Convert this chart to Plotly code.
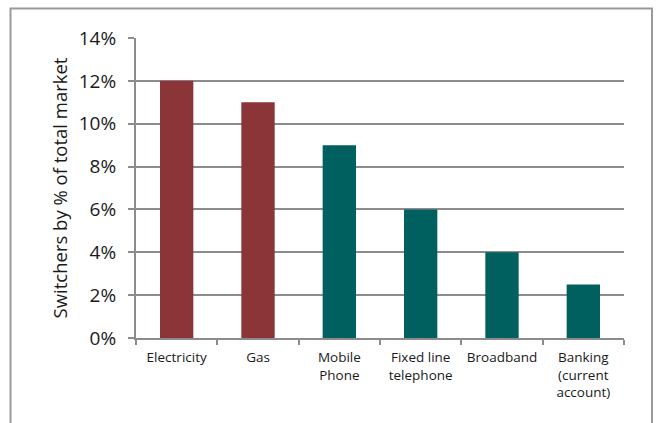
import plotly.graph_objects as go

# Switching rates by market
categories = ["Electricity", "Gas", "Mobile<br>Phone", "Fixed line<br>telephone",
              "Broadband", "Banking<br>(current<br>account)"]
switch_share = [0.12, 0.11, 0.09, 0.06, 0.04, 0.025]
bar_colors = ["#8b3539", "#8b3539", "#00605f", "#00605f", "#00605f", "#00605f"]

W, H = 656, 423
L, R, T, B = 136, 32, 38, 85
pw, ph = W - L - R, H - T - B

fig = go.Figure(go.Bar(
    x=categories, y=switch_share, marker_color=bar_colors,
    marker_line_width=0, width=0.41,
))

font = "Open Sans, Noto Sans, sans-serif"
fig.update_layout(
    width=W, height=H,
    margin=dict(l=L, r=R, t=T, b=B),
    plot_bgcolor="white", paper_bgcolor="white",
    showlegend=False,
    font=dict(family=font, color="#1a1a1a"),
    xaxis=dict(
        showline=True, linecolor="#8c8c8c", linewidth=2,
        ticks="outside", ticklen=5, tickcolor="#8c8c8c", tickwidth=2,
        tickson="boundaries", showgrid=False, ticklabelstandoff=6,
        tickfont=dict(size=13.5, family=font),
    ),
    yaxis=dict(
        range=[0, 0.14], dtick=0.02, tickformat=".0%",
        showgrid=True, gridcolor="#8c8c8c", gridwidth=2,
        showline=True, linecolor="#8c8c8c", linewidth=2,
        ticks="outside", ticklen=6, tickcolor="#8c8c8c", tickwidth=2,
        ticklabelstandoff=8,
        tickfont=dict(size=19, family=font), zeroline=False,
        title=dict(text="Switchers by % of total market",
                   font=dict(size=18.5, family=font), standoff=6),
    ),
)

# Outer chart frame (open at the bottom edge of the page)
def px_x(x):
    return (x - L) / pw

def px_y(y):
    return (H - B - y) / ph

fig.add_shape(type="path", xref="paper", yref="paper",
              path=(f"M {px_x(10.5)} {px_y(440)} L {px_x(10.5)} {px_y(8.5)} "
                    f"L {px_x(652)} {px_y(8.5)} L {px_x(652)} {px_y(440)}"),
              line=dict(color="#9a9a9a", width=2), layer="below")

fig.write_html("out.html")
